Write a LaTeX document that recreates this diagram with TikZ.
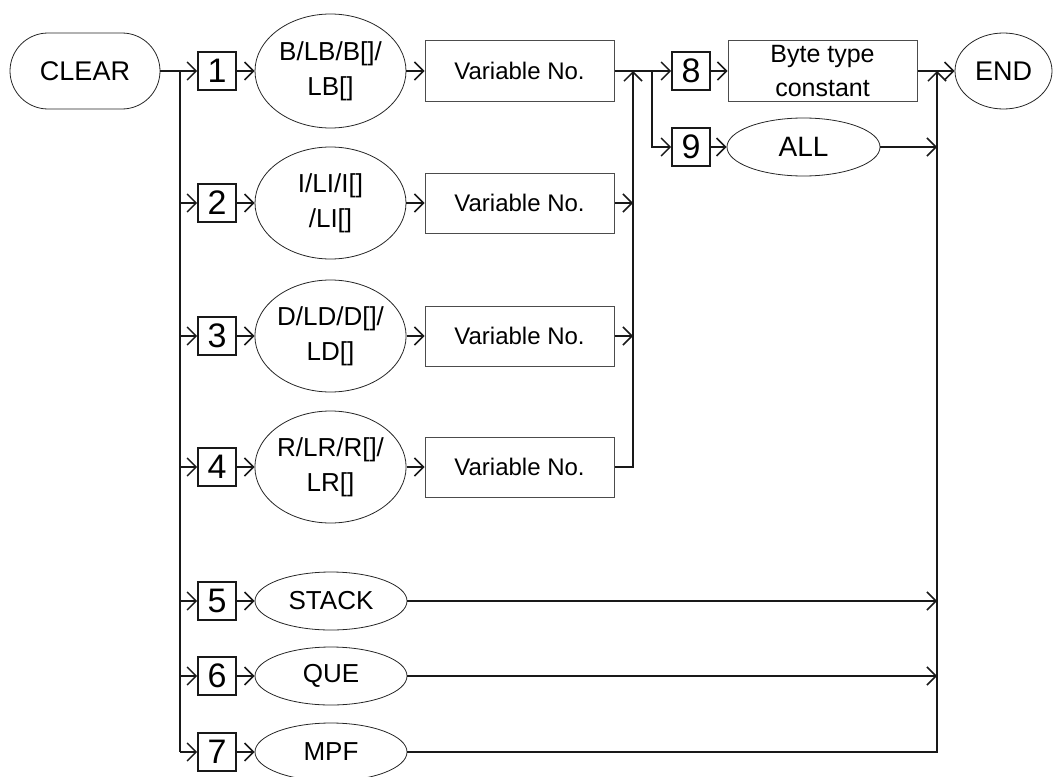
\documentclass[tikz,border=0pt]{standalone}
\usepackage{fontspec}
\setmainfont{Liberation Sans}
\usetikzlibrary{arrows.meta,shapes.geometric}
\begin{document}
\begin{tikzpicture}[x=1pt,y=-1pt,
  line/.style={line width=1.5pt, draw=black!90},
  arr/.style={line, -{Straight Barb[length=9pt,width=18pt,line width=1.5pt]}},
  numbox/.style={draw=black!90, line width=1.6pt, minimum width=38pt, minimum height=38pt, inner sep=0pt, font=\fontsize{34}{34}\selectfont},
  oval/.style={ellipse, draw=black!85, line width=0.8pt, inner sep=0pt, align=center, font=\fontsize{26}{35}\selectfont},
  rect/.style={draw=black!70, line width=1pt, inner sep=0pt, align=center, minimum width=189pt, minimum height=60pt, font=\fontsize{24}{34}\selectfont},
]
\useasboundingbox (0,0) rectangle (1056,776);
\clip (0,0) rectangle (1056,776);

% start / end
\node[draw=black!85, line width=0.8pt, rounded corners=38pt, minimum width=150pt, minimum height=76pt, inner sep=0pt, font=\fontsize{27}{27}\selectfont] (clear) at (85,71) {CLEAR};
\node[oval, minimum width=97pt, minimum height=76pt, font=\fontsize{27}{27}\selectfont] (end) at (1003.5,71) {END};

% number boxes
\node[numbox] (n1) at (217,71) {1};
\node[numbox] (n2) at (217,203) {2};
\node[numbox] (n3) at (217,336) {3};
\node[numbox] (n4) at (217,467) {4};
\node[numbox] (n5) at (217,601) {5};
\node[numbox] (n6) at (217,676) {6};
\node[numbox] (n7) at (217,752) {7};
\node[numbox] (n8) at (691,71) {8};
\node[numbox] (n9) at (691,147) {9};

% ellipses
\node[oval, minimum width=151pt, minimum height=114pt] (e1) at (330.5,71) {B/LB/B[]/\\LB[]};
\node[oval, minimum width=151pt, minimum height=112pt] (e2) at (330.5,203) {I/LI/I[]\\/LI[]};
\node[oval, minimum width=151pt, minimum height=112pt] (e3) at (330.5,336) {D/LD/D[]/\\LD[]};
\node[oval, minimum width=151pt, minimum height=112pt] (e4) at (330.5,467) {R/LR/R[]/\\LR[]};
\node[oval, minimum width=152pt, minimum height=58pt] (e5) at (331,601) {STACK};
\node[oval, minimum width=152pt, minimum height=58pt] (e6) at (331,676) {QUE};
\node[oval, minimum width=152pt, minimum height=58pt] (e7) at (331,752) {MPF};
\node[oval, minimum width=153pt, minimum height=58pt, font=\fontsize{28}{28}\selectfont] (all) at (803.5,147) {ALL};

% rectangles
\node[rect] (v1) at (519.5,71) {Variable No.};
\node[rect] (v2) at (519.5,203) {Variable No.};
\node[rect] (v3) at (519.5,336) {Variable No.};
\node[rect] (v4) at (519.5,467) {Variable No.};
\node[rect, minimum height=61pt, font=\fontsize{25}{34}\selectfont] (byte) at (822.5,71) {Byte type\\constant};

% junction coordinates
\coordinate (t1) at (180,71);
\coordinate (b1) at (633,71);
\coordinate (s1) at (652,71);
\coordinate (r1) at (937,71);

% trunk from CLEAR
\draw[arr] (clear.east) -- (n1.west);
\draw[line] (t1) -- (t1 |- n7);
\foreach \i in {2,...,7}{\draw[arr] (t1 |- n\i) -- (n\i.west);}

% number -> ellipse -> variable
\foreach \i in {1,...,7}{\draw[arr] (n\i.east) -- (e\i.west);}
\foreach \i in {1,...,4}{\draw[arr] (e\i.east) -- (v\i.west);}

% collector bus after variable boxes
\draw[line] (v1.east) -- (s1);
\draw[arr] (v2.east) -- (v2.east -| b1);
\draw[arr] (v3.east) -- (v3.east -| b1);
\draw[arr] (v4.east) -| (b1);

% branches 8 / 9
\draw[arr] (s1) -- (n8.west);
\draw[arr] (s1) |- (n9.west);
\draw[arr] (n8.east) -- (byte.west);
\draw[arr] (n9.east) -- (all.west);

% final bus to END
\draw[arr] (byte.east) -- (end.west);
\draw[arr] (all.east) -- (all.east -| r1);
\draw[arr] (e5.east) -- (e5.east -| r1);
\draw[arr] (e6.east) -- (e6.east -| r1);
\draw[arr] (e7.east) -| (r1);
\end{tikzpicture}
\end{document}
